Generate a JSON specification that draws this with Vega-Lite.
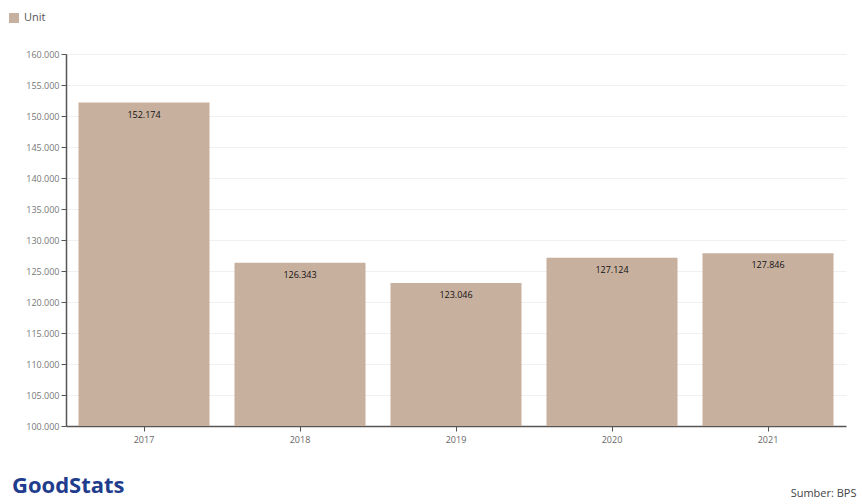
{
  "$schema": "https://vega.github.io/schema/vega-lite/v6.json",
  "autosize": "none",
  "width": 780,
  "height": 372,
  "padding": {"left": 66, "top": 54, "right": 16, "bottom": 78},
  "background": "white",
  "config": {
    "locale": {"number": {"decimal": ",", "thousands": ".", "grouping": [3], "currency": ["Rp", ""]}},
    "font": "Open Sans",
    "view": {"stroke": null}
  },
  "title": {
    "text": "GoodStats",
    "orient": "bottom",
    "anchor": "start",
    "frame": "group",
    "offset": -22,
    "dx": -54,
    "baseline": "top",
    "fontSize": 22,
    "fontWeight": "bold",
    "color": "#1f3d8c",
    "font": "Open Sans"
  },
  "data": {
    "values": [
      {"year": "2017", "value": 152174, "series": "Unit"},
      {"year": "2018", "value": 126343, "series": "Unit"},
      {"year": "2019", "value": 123046, "series": "Unit"},
      {"year": "2020", "value": 127124, "series": "Unit"},
      {"year": "2021", "value": 127846, "series": "Unit"}
    ]
  },
  "encoding": {
    "x": {
      "field": "year",
      "type": "nominal",
      "scale": {"paddingInner": 0.16, "paddingOuter": 0.08},
      "axis": {
        "title": "Sumber: BPS",
        "titleAnchor": "end",
        "titleAlign": "right",
        "titleBaseline": "bottom",
        "titleX": 790,
        "titleY": 72,
        "titleFontSize": 11,
        "titleFontWeight": "normal",
        "titleColor": "#444",
        "labelAngle": 0,
        "labelFontSize": 9,
        "labelColor": "#666",
        "labelPadding": 4,
        "domainColor": "#555",
        "domainWidth": 1.5,
        "tickColor": "#555",
        "tickSize": 5,
        "grid": false
      }
    },
    "y": {
      "field": "value",
      "type": "quantitative",
      "scale": {"domain": [100000, 160000], "zero": false, "nice": false},
      "axis": {
        "title": null,
        "values": [100000, 105000, 110000, 115000, 120000, 125000, 130000, 135000, 140000, 145000, 150000, 155000, 160000],
        "format": ",d",
        "labelFontSize": 9,
        "labelColor": "#777",
        "domainColor": "#555",
        "domainWidth": 1.5,
        "tickColor": "#555",
        "tickSize": 5,
        "gridColor": "#f0f0f0"
      }
    }
  },
  "layer": [
    {
      "mark": {"type": "bar", "clip": true},
      "encoding": {
        "color": {
          "field": "series",
          "type": "nominal",
          "scale": {"range": ["#c8b09f"]},
          "legend": {
            "title": null,
            "orient": "none",
            "legendX": -58,
            "legendY": -42,
            "symbolType": "square",
            "symbolSize": 100,
            "symbolOpacity": 1,
            "labelFontSize": 11,
            "labelColor": "#555"
          }
        }
      }
    },
    {
      "mark": {"type": "text", "baseline": "top", "dy": 8, "fontSize": 9, "color": "#111"},
      "encoding": {
        "text": {"field": "value", "type": "quantitative", "format": ",d"}
      }
    }
  ]
}
